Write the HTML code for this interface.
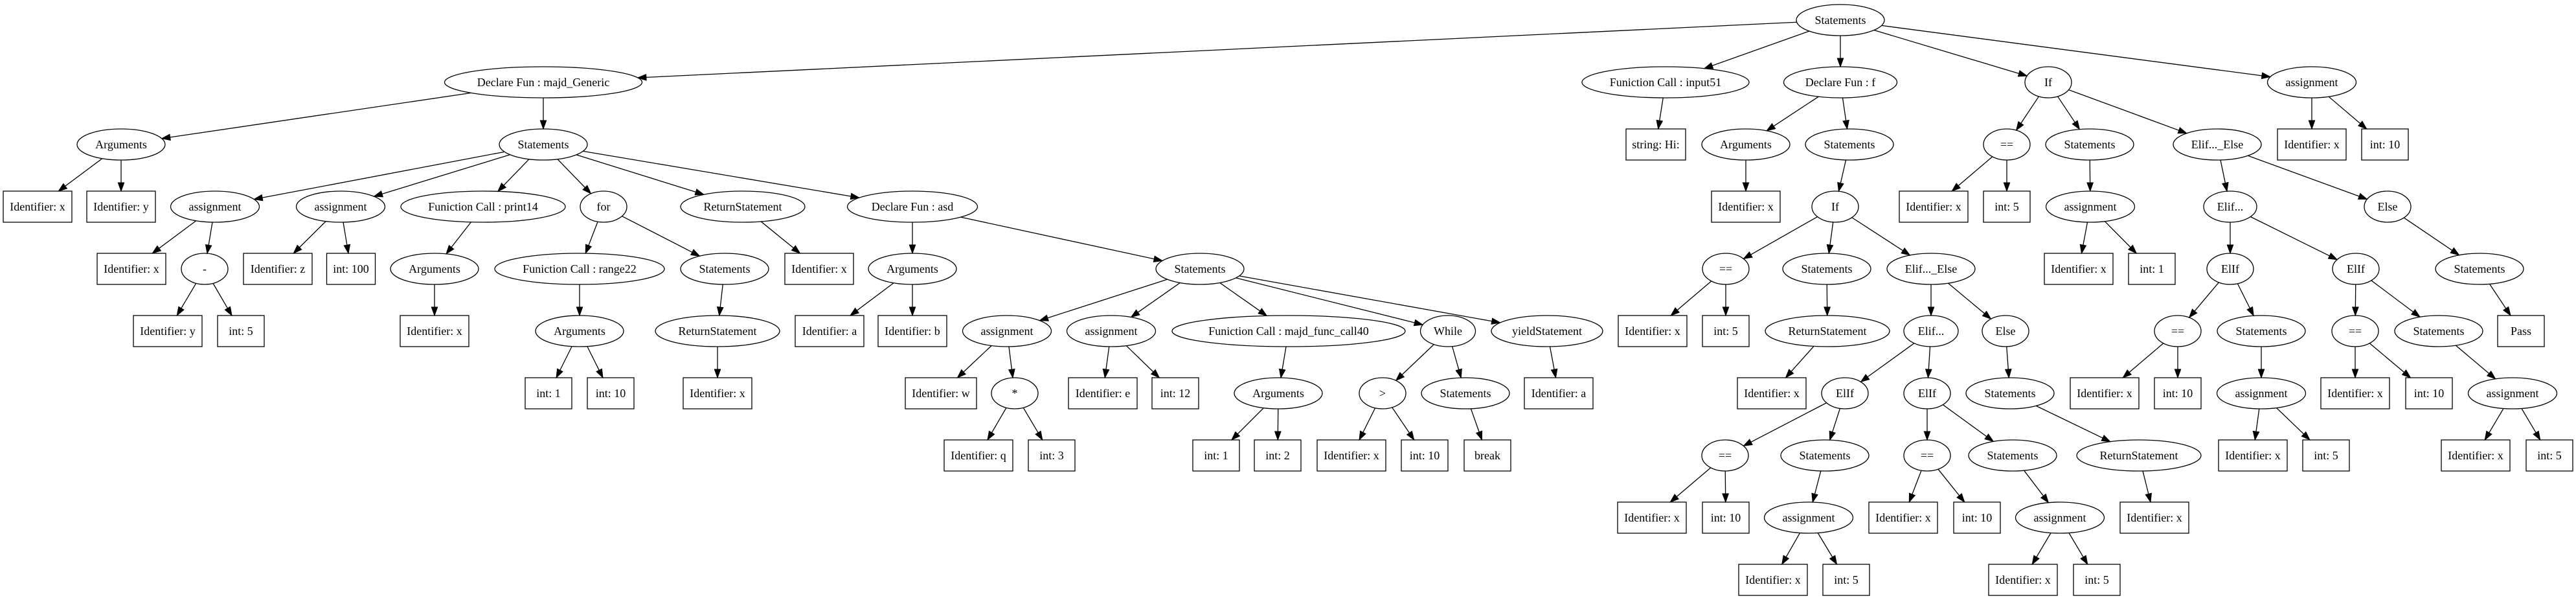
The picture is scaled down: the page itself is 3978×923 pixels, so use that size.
<!DOCTYPE html>
<html><head><meta charset="utf-8"><style>
html,body{margin:0;padding:0;background:#fff;width:3978px;height:923px;overflow:hidden}
svg text{font-family:"Liberation Serif",serif;font-size:18px;fill:#000}
</style></head><body>
<svg id="g" width="3978" height="923" xmlns="http://www.w3.org/2000/svg"></svg>
<script>
var E='e',B='b';
// id: [x,row,w,shape,label,parent]
var N={
R:[2842,0,136,E,'Statements',null],
DG:[839,1,305,E,'Declare Fun : majd_Generic','R'],
A1:[187,2,136,E,'Arguments','DG'],
a1x:[58,3,106,B,'Identifier: x','A1'],
a1y:[187,3,106,B,'Identifier: y','A1'],
S1:[839,2,136,E,'Statements','DG'],
as1:[332,3,137,E,'assignment','S1'],
as1x:[203,4,106,B,'Identifier: x','as1'],
mi:[316,4,72,E,'-','as1'],
miy:[259,5,106,B,'Identifier: y','mi'],
mi5:[372,5,72,B,'int: 5','mi'],
as2:[526,3,137,E,'assignment','S1'],
as2z:[429,4,106,B,'Identifier: z','as2'],
as2i:[542,4,75,B,'int: 100','as2'],
pr:[746,3,254,E,'Funiction Call : print14','S1'],
prA:[671,4,136,E,'Arguments','pr'],
prx:[671,5,106,B,'Identifier: x','prA'],
fo:[932,3,72,E,'for','S1'],
rg:[895,4,262,E,'Funiction Call : range22','fo'],
rgA:[895,5,136,E,'Arguments','rg'],
rg1:[847,6,72,B,'int: 1','rgA'],
rg10:[943,6,72,B,'int: 10','rgA'],
foS:[1119,4,136,E,'Statements','fo'],
foR:[1108,5,192,E,'ReturnStatement','foS'],
foRx:[1108,6,106,B,'Identifier: x','foR'],
RS1:[1147,3,192,E,'ReturnStatement','S1'],
RS1x:[1265,4,106,B,'Identifier: x','RS1'],
DA:[1409,3,201,E,'Declare Fun : asd','S1'],
DAA:[1409,4,136,E,'Arguments','DA'],
DAa:[1281,5,106,B,'Identifier: a','DAA'],
DAb:[1409,5,106,B,'Identifier: b','DAA'],
DAS:[1853,4,136,E,'Statements','DA'],
b1:[1555,5,137,E,'assignment','DAS'],
b1w:[1453,6,110,B,'Identifier: w','b1'],
st:[1567,6,72,E,'*','b1'],
stq:[1511,7,106,B,'Identifier: q','st'],
st3:[1624,7,72,B,'int: 3','st'],
b2:[1716,5,137,E,'assignment','DAS'],
b2e:[1703,6,106,B,'Identifier: e','b2'],
b212:[1815,6,72,B,'int: 12','b2'],
fc:[1990,5,360,E,'Funiction Call : majd_func_call40','DAS'],
fcA:[1974,6,136,E,'Arguments','fc'],
fc1:[1878,7,72,B,'int: 1','fcA'],
fc2:[1973,7,72,B,'int: 2','fcA'],
wh:[2236,5,85,E,'While','DAS'],
gt:[2135,6,72,E,'>','wh'],
gtx:[2087,7,106,B,'Identifier: x','gt'],
gt10:[2200,7,72,B,'int: 10','gt'],
whS:[2263,6,136,E,'Statements','wh'],
brk:[2297,7,72,B,'break','whS'],
yd:[2389,5,172,E,'yieldStatement','DAS'],
yda:[2407,6,106,B,'Identifier: a','yd'],
inp:[2572,1,258,E,'Funiction Call : input51','R'],
hi:[2557,2,92,B,'string: Hi:','inp'],
DF:[2842,1,175,E,'Declare Fun : f','R'],
DFA:[2696,2,136,E,'Arguments','DF'],
DFAx:[2696,3,106,B,'Identifier: x','DFA'],
DFS:[2856,2,136,E,'Statements','DF'],
If2:[2834,3,72,E,'If','DFS'],
eq1:[2665,4,72,E,'==','If2'],
eq1x:[2552,5,106,B,'Identifier: x','eq1'],
eq15:[2665,5,72,B,'int: 5','eq1'],
s21:[2821,4,136,E,'Statements','If2'],
rs21:[2822,5,192,E,'ReturnStatement','s21'],
rs21x:[2736,6,106,B,'Identifier: x','rs21'],
ee2:[2982,4,136,E,'Elif..._Else','If2'],
el2:[2982,5,84,E,'Elif...','ee2'],
ei2a:[2849,6,72,E,'ElIf','el2'],
eq2a:[2664,7,72,E,'==','ei2a'],
eq2ax:[2551,8,106,B,'Identifier: x','eq2a'],
eq2a10:[2665,8,72,B,'int: 10','eq2a'],
s2a:[2818,7,136,E,'Statements','ei2a'],
as2a:[2793,8,137,E,'assignment','s2a'],
as2ax:[2738,9,106,B,'Identifier: x','as2a'],
as2a5:[2851,9,72,B,'int: 5','as2a'],
ei2b:[2976,6,72,E,'ElIf','el2'],
eq2b:[2976,7,72,E,'==','ei2b'],
eq2bx:[2939,8,106,B,'Identifier: x','eq2b'],
eq2b10:[3053,8,72,B,'int: 10','eq2b'],
s2b:[3108,7,136,E,'Statements','ei2b'],
as2b:[3181,8,137,E,'assignment','s2b'],
as2bx:[3124,9,106,B,'Identifier: x','as2b'],
as2b5:[3238,9,72,B,'int: 5','as2b'],
els2:[3097,5,72,E,'Else','ee2'],
els2S:[3104,6,136,E,'Statements','els2'],
els2R:[3303,7,192,E,'ReturnStatement','els2S'],
els2Rx:[3327,8,106,B,'Identifier: x','els2R'],
If3:[3163,1,72,E,'If','R'],
eq3:[3099,2,72,E,'==','If3'],
eq3x:[2986,3,106,B,'Identifier: x','eq3'],
eq35:[3099,3,72,B,'int: 5','eq3'],
s3:[3227,2,136,E,'Statements','If3'],
as3:[3228,3,137,E,'assignment','s3'],
as3x:[3210,4,106,B,'Identifier: x','as3'],
as31:[3323,4,72,B,'int: 1','as3'],
ee3:[3424,2,136,E,'Elif..._Else','If3'],
el3:[3444,3,82,E,'Elif...','ee3'],
ei3a:[3444,4,72,E,'ElIf','el3'],
eq3a:[3363,5,72,E,'==','ei3a'],
eq3ax:[3250,6,106,B,'Identifier: x','eq3a'],
eq3a10:[3363,6,72,B,'int: 10','eq3a'],
s3a:[3492,5,136,E,'Statements','ei3a'],
as3a:[3492,6,137,E,'assignment','s3a'],
as3ax:[3479,7,106,B,'Identifier: x','as3a'],
as3a5:[3592,7,72,B,'int: 5','as3a'],
ei3b:[3638,4,72,E,'ElIf','el3'],
eq3b:[3637,5,72,E,'==','ei3b'],
eq3bx:[3637,6,106,B,'Identifier: x','eq3b'],
eq3b10:[3751,6,72,B,'int: 10','eq3b'],
s3b:[3766,5,136,E,'Statements','ei3b'],
as3b:[3880,6,137,E,'assignment','s3b'],
as3bx:[3823,7,106,B,'Identifier: x','as3b'],
as3b5:[3937,7,72,B,'int: 5','as3b'],
els3:[3687,3,72,E,'Else','ee3'],
els3S:[3829,4,136,E,'Statements','els3'],
pass:[3893,5,72,B,'Pass','els3S'],
asR:[3570,1,137,E,'assignment','R'],
asRx:[3570,2,106,B,'Identifier: x','asR'],
asR10:[3683,2,72,B,'int: 10','asR']
};
var H=48,s='';
function Y(r){return 31+r*96;}
function bnd(n,dx,dy){var a=n[2]/2,b=H/2,t;
 if(n[3]==E){t=1/Math.sqrt((dx/a)*(dx/a)+(dy/b)*(dy/b));}
 else{t=Math.min(dx?a/Math.abs(dx):1e9,dy?b/Math.abs(dy):1e9);}
 return t;}
for(var k in N){var n=N[k],x=n[0],y=Y(n[1]);
 if(n[3]==E)s+='<ellipse cx="'+x+'" cy="'+y+'" rx="'+n[2]/2+'" ry="'+H/2+'" fill="none" stroke="#000" stroke-width="1.3"/>';
 else s+='<rect x="'+(x-n[2]/2)+'" y="'+(y-H/2)+'" width="'+n[2]+'" height="'+H+'" fill="none" stroke="#000" stroke-width="1.3"/>';
 s+='<text x="'+x+'" y="'+(y+6)+'" text-anchor="middle">'+n[4]+'</text>';
 if(n[5]){var p=N[n[5]],px=p[0],py=Y(p[1]),dx=x-px,dy=y-py;
  var t1=bnd(p,dx,dy),t2=bnd(n,-dx,-dy);
  var sx=px+dx*t1,sy=py+dy*t1,ex=x-dx*t2,ey=y-dy*t2;
  var L=Math.sqrt(dx*dx+dy*dy),ux=dx/L,uy=dy/L,al=13,aw=4.7;
  var bx=ex-ux*al,by=ey-uy*al;
  s+='<line x1="'+sx+'" y1="'+sy+'" x2="'+bx+'" y2="'+by+'" stroke="#000" stroke-width="1.3"/>';
  s+='<polygon points="'+ex+','+ey+' '+(bx-uy*aw)+','+(by+ux*aw)+' '+(bx+uy*aw)+','+(by-ux*aw)+'" fill="#000" stroke="#000"/>';
 }}
document.getElementById('g').innerHTML=s;
</script>
</body></html>
